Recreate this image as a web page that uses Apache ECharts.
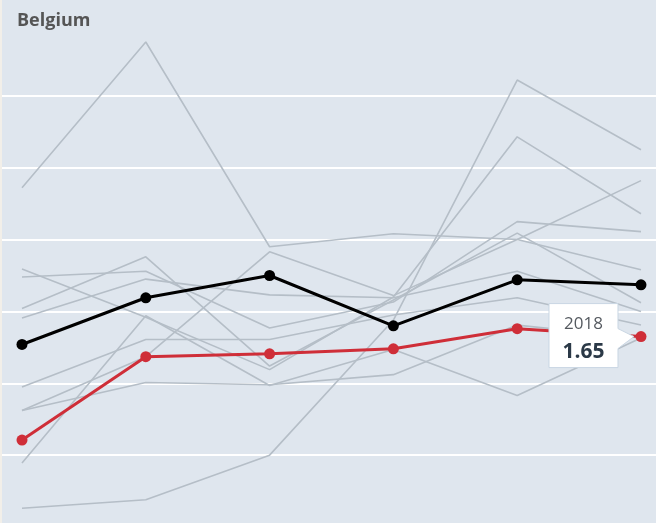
<!DOCTYPE html>
<html>
<head>
<meta charset="utf-8">
<script src="https://cdn.jsdelivr.net/npm/echarts@6/dist/echarts.min.js"></script>
<style>
  html, body { margin: 0; padding: 0; background: #f2efe9; }
  #chart { position: absolute; left: 2px; top: 0; width: 654px; height: 523px; background: #dfe6ee; }
</style>
</head>
<body>
<div id="chart"></div>
<script>
// Years on the horizontal axis
const years = [2013, 2014, 2015, 2016, 2017, 2018];

// Highlighted country
const belgium = [0.21, 1.37, 1.41, 1.48, 1.76, 1.65];
// Reference average
const average = [1.54, 2.19, 2.50, 1.80, 2.44, 2.37];

// Other countries, drawn as thin grey context lines
const other1 = [3.72, 5.75, 2.90, 3.08, 3.00, 2.58];
const other2 = [2.59, 1.92, 1.19, 2.20, 4.43, 3.36];
const other3 = [2.48, 2.56, 1.77, 2.13, 3.25, 3.11];
const other4 = [2.04, 2.76, 1.24, 2.16, 3.09, 2.12];
const other5 = [1.91, 2.45, 2.23, 2.19, 2.56, 2.00];
const other6 = [0.95, 1.61, 1.61, 1.95, 2.19, 1.81];
const other7 = [0.62, 1.01, 0.98, 1.12, 1.81, 1.63];
const other8 = [0.62, 1.37, 2.83, 2.22, 3.00, 3.82];
const other9 = [-0.11, 1.94, 0.97, 1.47, 0.83, 1.63];
const other10 = [-0.74, -0.62, 0.00, 1.88, 5.22, 4.25];

const others = [other1, other2, other3, other4, other5, other6, other7, other8, other9, other10];

// Pair each value with its year for the numeric x axis
const pairs = vals => vals.map((v, i) => [years[i], v]);

const chart = echarts.init(document.getElementById('chart'), null, { renderer: 'canvas' });

const greySeries = others.map((d, i) => ({
  name: 'c' + i,
  type: 'line',
  data: pairs(d),
  symbol: 'none',
  silent: true,
  lineStyle: { color: '#b5bec7', width: 1.6 },
  z: 2
}));

chart.setOption({
  animation: false,
  backgroundColor: '#dfe6ee',
  title: {
    text: 'Belgium',
    left: 10,
    top: 7,
    textStyle: { fontFamily: 'Open Sans', fontWeight: 'bold', fontSize: 18, color: '#555555' }
  },
  grid: { left: 0, right: 0, top: 24, height: 503, containLabel: false, outerBoundsMode: 'none' },
  xAxis: {
    type: 'value',
    min: 2012.8385,
    max: 2018.1212,
    show: false,
    splitLine: { show: false }
  },
  yAxis: {
    type: 'value',
    min: -1,
    max: 6,
    interval: 1,
    axisLabel: { show: false },
    axisLine: { show: false },
    axisTick: { show: false },
    splitLine: { show: true, showMaxLine: false, lineStyle: { color: '#ffffff', width: 1.8 } }
  },
  series: greySeries.concat([
    {
      name: 'Average',
      type: 'line',
      data: pairs(average),
      symbol: 'circle',
      symbolSize: 11,
      itemStyle: { color: '#000000' },
      lineStyle: { color: '#000000', width: 3 },
      z: 5
    },
    {
      name: 'Belgium',
      type: 'line',
      data: pairs(belgium),
      symbol: 'circle',
      symbolSize: 11,
      itemStyle: { color: '#cf2e38' },
      lineStyle: { color: '#cf2e38', width: 3 },
      z: 6
    }
  ])
});

// Callout for the latest Belgian value, anchored to the last point
const lastIdx = belgium.length - 1;
const p = chart.convertToPixel({ gridIndex: 0 }, [years[lastIdx], belgium[lastIdx]]);
const tipX = p[0] - 7;
const boxRight = p[0] - 23;
const boxLeft = boxRight - 69;
const boxTop = p[1] - 33;
const boxBottom = p[1] + 31;
chart.setOption({
  graphic: [
    {
      type: 'polygon',
      z: 100,
      shape: {
        points: [
          [boxLeft, boxTop], [boxRight, boxTop], [boxRight, p[1] - 8], [tipX, p[1]],
          [boxRight, p[1] + 12], [boxRight, boxBottom], [boxLeft, boxBottom]
        ]
      },
      style: { fill: '#ffffff', stroke: '#c9d6e3', lineWidth: 1 }
    },
    {
      type: 'text',
      z: 101,
      x: (boxLeft + boxRight) / 2,
      y: boxTop + 21,
      style: {
        text: String(years[lastIdx]),
        fontFamily: 'Open Sans',
        fontSize: 17,
        fill: '#555a60',
        align: 'center',
        verticalAlign: 'middle'
      }
    },
    {
      type: 'text',
      z: 101,
      x: (boxLeft + boxRight) / 2,
      y: boxTop + 48,
      style: {
        text: belgium[lastIdx].toFixed(2),
        fontFamily: 'Open Sans',
        fontWeight: 'bold',
        fontSize: 21,
        fill: '#2b3947',
        align: 'center',
        verticalAlign: 'middle'
      }
    }
  ]
});
</script>
</body>
</html>
